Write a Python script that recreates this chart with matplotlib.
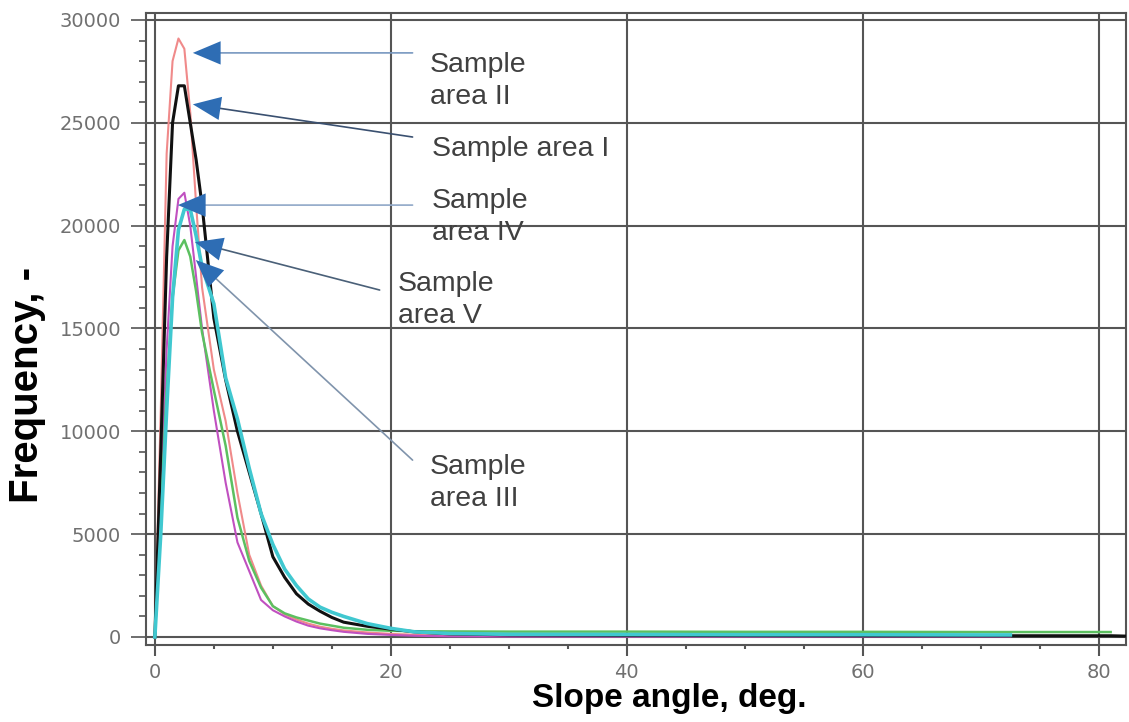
import matplotlib.pyplot as plt
import numpy as np
from matplotlib.ticker import MultipleLocator

nan = np.nan

# slope angle bins (deg)
angle = [0, 0.5, 1, 1.5, 2, 2.5, 3, 3.5, 4, 5, 6, 7, 8, 9, 10, 11, 12, 13, 14, 15,
         16, 18, 20, 22, 25, 30, 40, 50, 60, 70, 72.5, 75, 80, 81, 82.5]

# frequency per sample area
area_2 = [0, 11000, 23500, 28000, 29100, 28600, 25500, 21000, 17000, 13000, 10500, 7000,
          4000, 2500, 1500, 1100, 850, 650, 500, 400, 320, 220, 150, 110, 90, 80, 70, 70,
          60, 60, 60, nan, nan, nan, nan]
area_4 = [0, 7000, 14000, 19000, 21300, 21600, 20000, 17500, 15000, 11000, 7500, 4600,
          3200, 1800, 1300, 1000, 750, 550, 420, 330, 250, 150, 100, 60, 30, 20, 20, 20,
          20, 20, 20, nan, nan, nan, nan]
area_5 = [0, 6000, 12000, 16500, 18800, 19300, 18500, 16800, 14800, 12000, 9300, 5800,
          3700, 2400, 1500, 1150, 950, 800, 650, 550, 450, 350, 300, 280, 270, 260, 260,
          250, 250, 240, 240, 240, 240, 240, nan]
area_1 = [0, 9000, 18500, 25000, 26800, 26800, 25000, 23200, 21000, 15500, 12500, 10000,
          8000, 6000, 3900, 2900, 2100, 1600, 1250, 950, 720, 520, 380, 250, 150, 100, 80,
          70, 60, 60, 60, 60, 60, 60, 40]
area_cyan = [0, 5000, 11000, 16500, 19800, 20800, 20800, 19500, 18000, 16200, 12600, 10600,
             8200, 6000, 4500, 3300, 2500, 1850, 1450, 1200, 1000, 650, 420, 250, 170, 130,
             120, 110, 110, 100, 100, nan, nan, nan, nan]

series = [
    (area_2, '#f08a8a', 1.5),
    (area_4, '#c050c0', 1.5),
    (area_5, '#5cc060', 1.8),
    (area_1, '#111111', 2.2),
    (area_cyan, '#40c8d0', 2.6),
]

labels = ['Sample\narea II', 'Sample area I', 'Sample\narea IV', 'Sample\narea V',
          'Sample\narea III']
label_pos = [(23.28, 28440), (23.45, 24360), (23.45, 21830), (20.57, 17795), (23.28, 8900)]
arrow_start = [(21.84, 28400), (21.84, 24310), (21.84, 21000), (19.05, 16870), (21.84, 8600)]
arrow_tip = [(3.22, 28400), (3.22, 25900), (1.95, 21000), (3.39, 19200), (3.47, 18330)]
arrow_colors = ['#7898c0', '#3a5070', '#90a8c8', '#4a6078', '#8094ac']

fig = plt.figure(figsize=(11.29, 7.22), dpi=100)
ax = fig.add_axes([146 / 1129, 1 - 645 / 722, (1126 - 146) / 1129, (645 - 13) / 722])

for vals, col, lw in series:
    ax.plot(angle, vals, color=col, lw=lw, zorder=3)

ax.set_xlim(-0.75, 82.3)
ax.set_ylim(-390, 30340)
ax.xaxis.set_major_locator(MultipleLocator(20))
ax.xaxis.set_minor_locator(MultipleLocator(5))
ax.yaxis.set_major_locator(MultipleLocator(5000))
ax.yaxis.set_minor_locator(MultipleLocator(1000))
ax.grid(True, which='major', color='#555555', lw=1.5)
ax.set_axisbelow(True)
for sp in ax.spines.values():
    sp.set_color('#555555')
    sp.set_linewidth(1.5)
ax.tick_params(axis='y', which='major', length=11, width=1.2, color='#555555',
               labelsize=14, labelcolor='#707070', pad=7)
ax.tick_params(axis='y', which='minor', length=5, width=1.2, color='#555555')
ax.tick_params(axis='x', which='major', length=8, width=1.5, color='#555555',
               labelsize=14, labelcolor='#707070', pad=5)
ax.tick_params(axis='x', which='minor', length=3, width=1.5, color='#555555')

for (tx, ty), txt in zip(label_pos, labels):
    ax.text(tx, ty, txt, fontsize=20.5, family='Liberation Sans', color='#404040',
            va='top', ha='left', linespacing=1.3, zorder=5)

for s, t, c in zip(arrow_start, arrow_tip, arrow_colors):
    ax.annotate('', xy=t, xytext=s, zorder=6,
                arrowprops=dict(arrowstyle='-', color=c, lw=1.2, shrinkA=0, shrinkB=8))
    ax.annotate('', xy=t, xytext=s, zorder=7,
                arrowprops=dict(arrowstyle='-|>,head_length=1.0,head_width=0.42',
                                mutation_scale=20, fc='#2e6db4', ec='none', lw=0,
                                shrinkA=0, shrinkB=0))

fig.text(669 / 1129, 1 - 698 / 722, 'Slope angle, deg.', fontsize=24, fontweight='bold',
         family='Liberation Sans', ha='center', va='center')
fig.text(27 / 1129, 1 - 385 / 722, 'Frequency, -', fontsize=29, fontweight='bold',
         family='Liberation Sans', ha='center', va='center', rotation=90)

fig.savefig('out.png', dpi=100)
